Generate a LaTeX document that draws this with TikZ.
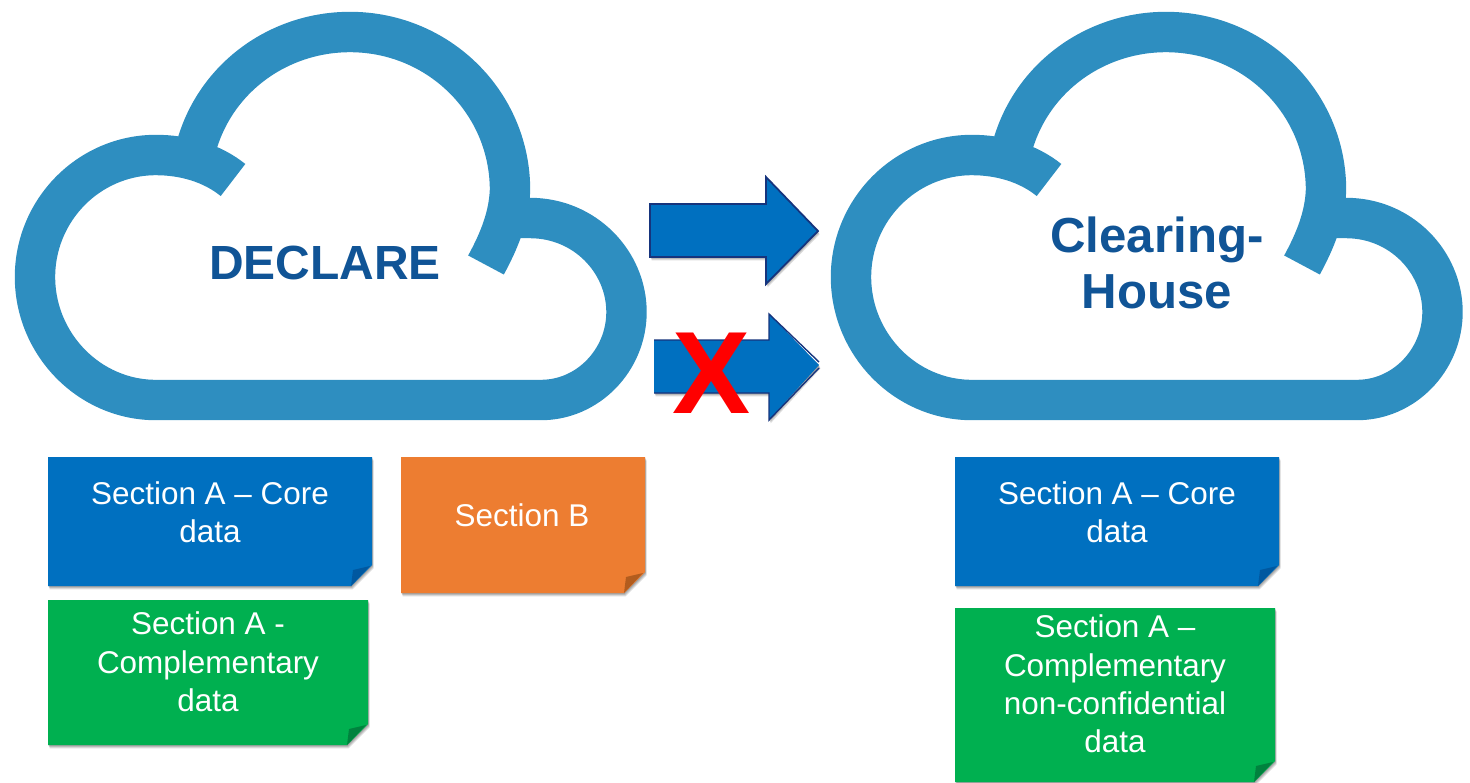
\documentclass[tikz,border=0pt]{standalone}
\usepackage{fontspec}
\setmainfont{Liberation Sans}
\usetikzlibrary{shadows}
\definecolor{cloudblue}{RGB}{46,142,192}
\definecolor{titleblue}{RGB}{16,84,150}
\definecolor{noteblue}{RGB}{0,112,192}
\definecolor{flapblue}{RGB}{0,88,160}
\definecolor{notegreen}{RGB}{0,176,80}
\definecolor{flapgreen}{RGB}{0,130,62}
\definecolor{noteorange}{RGB}{237,125,49}
\definecolor{flaporange}{RGB}{178,92,30}
\definecolor{arrowline}{RGB}{22,52,125}
\tikzset{
  cloudline/.style={draw=cloudblue,line width=23pt,line join=round},
  titletext/.style={text=titleblue,font=\fontsize{28}{32}\selectfont\bfseries,align=center},
  notetext/.style={text=white,font=\fontsize{17.9}{21.8}\selectfont,align=center},
  softshadow/.style={
    drop shadow={shadow xshift=0.3pt,shadow yshift=-0.6pt,opacity=.14,fill=black},
    drop shadow={shadow xshift=0.6pt,shadow yshift=-1.2pt,opacity=.14,fill=black},
    drop shadow={shadow xshift=0.9pt,shadow yshift=-1.9pt,opacity=.14,fill=black}},
  blockarrow/.style={fill=noteblue,softshadow}
}
\begin{document}
\begin{tikzpicture}[x=0.02cm,y=-0.02cm]
    \useasboundingbox (0,0) rectangle (1470,782);

    % Draw the two clouds
    \foreach \cloudx in {0,816}
    \draw[cloudline,shift={(\cloudx,0)}]
        (486,265) .. controls (499,241) and (509,217) .. (510,190)
        .. controls (510,102) and (438,32) .. (350,32)
        .. controls (281,32) and (219,75) .. (198,141) -- (190,165)
        (233,180) .. controls (212,163) and (184,155) .. (156,155)
        .. controls (89,155) and (35,210) .. (35,277)
        .. controls (35,344) and (89,400) .. (156,400) -- (541,400)
        .. controls (588,400) and (626.5,360) .. (626.5,312)
        .. controls (626.5,262) and (585,218) .. (530,218) -- (512,218);

    % Draw the cloud titles
    \node[titletext,font=\fontsize{27.3}{32}\selectfont\bfseries] (declare) at (325,263) {DECLARE};
    \node[titletext] (clearing) at (1157,263) {Clearing-\\House};

    % Draw the block arrows
    \path[blockarrow] (650,204) -- (766,204) -- (766,177) -- (818,231) -- (766,284) -- (766,257) -- (650,257) -- cycle;
    \draw[arrowline,line width=1pt] (650,204) -- (766,204) -- (766,177) -- (818,231) -- (766,284) -- (766,257) -- (650,257) -- cycle;
    \path[blockarrow] (654,340) -- (769,340) -- (769,314) -- (819,365) -- (769,420) -- (769,393) -- (654,393) -- cycle;
    \draw[arrowline,line width=.8pt] (654,340) -- (769,340) -- (769,314) -- (819,362) (819,368) -- (769,420) -- (769,393) -- (654,393);

    % Draw the red cross
    \node[text=red,font=\fontsize{66.6}{70}\selectfont\bfseries,inner sep=0pt] (cross) at (712,373) {X};

    % Draw the sticky notes with their folded corners
    \foreach \xa/\ya/\xb/\yb/\col in {48/457/372/586/blue,401/457/645/593/orange,48/600/368/745/green,955/457/1279/586/blue,955/608/1275/782/green}
    {
        \fill[note\col,softshadow] (\xa,\ya) -- (\xb,\ya) -- (\xb,\yb-21) -- (\xb-21,\yb) -- (\xa,\yb) -- cycle;
        \fill[flap\col] (\xb-21,\yb) -- (\xb-19,\yb-16) -- (\xb-2,\yb-20) -- cycle;
    }

    % Draw the note texts
    \node[notetext] (coreleft) at (210,512) {Section A – Core\\data};
    \node[notetext] (sectionb) at (522,515) {Section B};
    \node[notetext] (compleft) at (208,662) {Section A -\\Complementary\\data};
    \node[notetext] (coreright) at (1117,512) {Section A – Core\\data};
    \node[notetext] (compright) at (1115,684) {Section A –\\Complementary\\non-confidential\\data};
\end{tikzpicture}
\end{document}
